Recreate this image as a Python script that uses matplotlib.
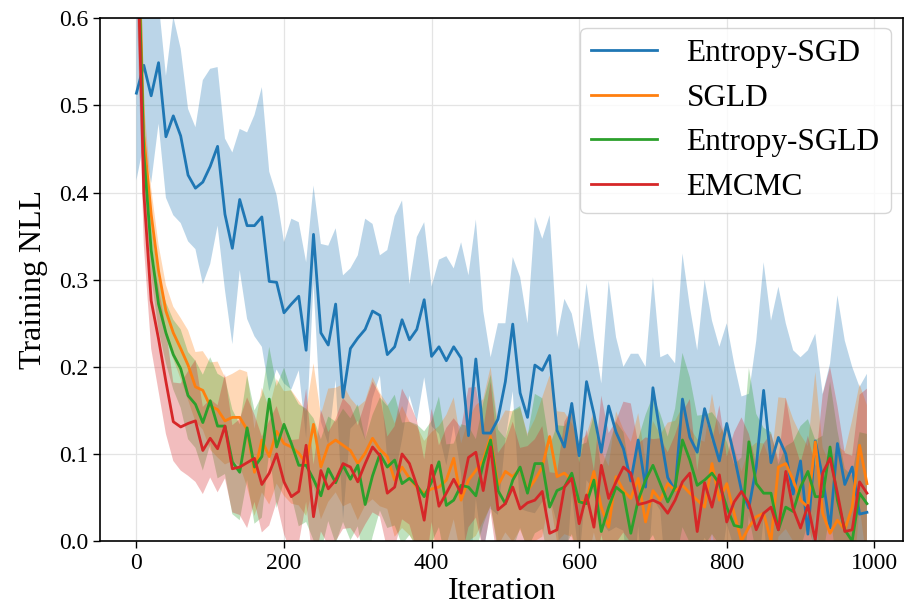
import numpy as np
import matplotlib
matplotlib.use("Agg")
import matplotlib.pyplot as plt

plt.rcParams['font.family'] = ['Liberation Serif', 'DejaVu Serif']
plt.rcParams['mathtext.fontset'] = 'stix'

iterations = list(range(0, 1000, 10))

labels = ["Entropy-SGD", "SGLD", "Entropy-SGLD", "EMCMC"]
colors = ["#1f77b4", "#ff7f0e", "#2ca02c", "#d62728"]

entropy_sgd_mean = [
    0.514, 0.546, 0.511, 0.549, 0.464, 0.488, 0.465, 0.420, 0.405, 0.412,
    0.430, 0.453, 0.375, 0.336, 0.392, 0.362, 0.362, 0.372, 0.298, 0.297,
    0.262, 0.272, 0.281, 0.219, 0.352, 0.239, 0.225, 0.272, 0.165, 0.221,
    0.233, 0.243, 0.264, 0.259, 0.214, 0.223, 0.254, 0.231, 0.243, 0.277,
    0.212, 0.223, 0.207, 0.223, 0.210, 0.121, 0.209, 0.124, 0.124, 0.140,
    0.183, 0.249, 0.170, 0.142, 0.202, 0.196, 0.213, 0.127, 0.108, 0.158,
    0.098, 0.183, 0.146, 0.102, 0.155, 0.125, 0.106, 0.069, 0.116, 0.062,
    0.176, 0.123, 0.073, 0.058, 0.163, 0.119, 0.102, 0.152, 0.121, 0.092,
    0.135, 0.098, 0.058, 0.038, 0.085, 0.173, 0.090, 0.119, 0.100, 0.054,
    0.092, 0.008, 0.115, 0.073, 0.015, 0.112, 0.065, 0.085, 0.031, 0.033,
]
entropy_sgd_std = [
    0.100, 0.090, 0.100, 0.070, 0.070, 0.114, 0.100, 0.076, 0.070, 0.117,
    0.112, 0.091, 0.087, 0.110, 0.081, 0.107, 0.127, 0.149, 0.126, 0.100,
    0.081, 0.098, 0.085, 0.101, 0.056, 0.102, 0.114, 0.087, 0.140, 0.092,
    0.095, 0.127, 0.100, 0.069, 0.120, 0.150, 0.137, 0.064, 0.106, 0.089,
    0.080, 0.100, 0.120, 0.090, 0.133, 0.184, 0.160, 0.140, 0.087, 0.110,
    0.067, 0.077, 0.133, 0.108, 0.170, 0.151, 0.161, 0.107, 0.170, 0.103,
    0.121, 0.113, 0.088, 0.079, 0.144, 0.109, 0.094, 0.146, 0.099, 0.138,
    0.127, 0.088, 0.142, 0.146, 0.167, 0.150, 0.117, 0.148, 0.132, 0.131,
    0.115, 0.106, 0.108, 0.131, 0.145, 0.147, 0.163, 0.173, 0.150, 0.165,
    0.119, 0.211, 0.123, 0.096, 0.189, 0.170, 0.165, 0.115, 0.146, 0.159,
]

sgld_mean = [
    0.780, 0.465, 0.375, 0.310, 0.264, 0.239, 0.221, 0.202, 0.177, 0.173,
    0.155, 0.151, 0.138, 0.142, 0.142, 0.128, 0.079, 0.116, 0.097, 0.126,
    0.112, 0.108, 0.101, 0.089, 0.134, 0.085, 0.110, 0.116, 0.110, 0.104,
    0.089, 0.101, 0.118, 0.105, 0.097, 0.070, 0.085, 0.072, 0.062, 0.055,
    0.060, 0.062, 0.070, 0.095, 0.047, 0.070, 0.081, 0.093, 0.120, 0.064,
    0.080, 0.074, 0.083, 0.058, 0.070, 0.085, 0.120, 0.074, 0.078, 0.070,
    0.044, 0.047, 0.080, 0.039, 0.016, 0.074, 0.058, 0.049, 0.072, 0.022,
    0.058, 0.047, 0.066, 0.058, 0.064, 0.055, 0.047, 0.039, 0.089, 0.047,
    0.066, 0.032, 0.000, 0.016, 0.028, 0.032, 0.000, 0.085, 0.089, 0.070,
    0.047, 0.039, 0.114, 0.032, 0.009, 0.024, 0.013, 0.039, 0.110, 0.066,
]
sgld_std = [
    0.100, 0.040, 0.030, 0.030, 0.030, 0.030, 0.035, 0.040, 0.040, 0.045,
    0.050, 0.055, 0.050, 0.050, 0.055, 0.066, 0.050, 0.060, 0.055, 0.060,
    0.060, 0.065, 0.060, 0.060, 0.070, 0.060, 0.065, 0.060, 0.070, 0.060,
    0.065, 0.060, 0.070, 0.065, 0.060, 0.065, 0.070, 0.065, 0.070, 0.060,
    0.065, 0.070, 0.075, 0.070, 0.065, 0.070, 0.075, 0.070, 0.080, 0.070,
    0.070, 0.075, 0.070, 0.065, 0.070, 0.080, 0.070, 0.075, 0.070, 0.065,
    0.070, 0.075, 0.070, 0.065, 0.070, 0.075, 0.070, 0.065, 0.075, 0.070,
    0.080, 0.075, 0.070, 0.080, 0.090, 0.075, 0.070, 0.075, 0.080, 0.075,
    0.070, 0.075, 0.080, 0.090, 0.085, 0.080, 0.090, 0.080, 0.075, 0.070,
    0.075, 0.070, 0.080, 0.075, 0.080, 0.085, 0.090, 0.100, 0.070, 0.090,
]

entropy_sgld_mean = [
    0.750, 0.445, 0.334, 0.272, 0.239, 0.214, 0.198, 0.167, 0.157, 0.136,
    0.161, 0.132, 0.132, 0.091, 0.079, 0.130, 0.085, 0.097, 0.163, 0.108,
    0.134, 0.112, 0.087, 0.087, 0.071, 0.052, 0.083, 0.067, 0.087, 0.071,
    0.087, 0.042, 0.075, 0.100, 0.085, 0.093, 0.066, 0.072, 0.064, 0.051,
    0.068, 0.091, 0.041, 0.047, 0.064, 0.062, 0.052, 0.089, 0.116, 0.058,
    0.043, 0.070, 0.085, 0.055, 0.089, 0.089, 0.039, 0.058, 0.062, 0.078,
    0.045, 0.043, 0.070, 0.011, 0.039, 0.062, 0.055, 0.009, 0.047, 0.070,
    0.087, 0.066, 0.045, 0.062, 0.116, 0.093, 0.064, 0.070, 0.078, 0.066,
    0.039, 0.018, 0.016, 0.114, 0.066, 0.055, 0.055, 0.013, 0.039, 0.034,
    0.062, 0.080, 0.051, 0.051, 0.108, 0.047, 0.013, 0.000, 0.055, 0.043,
]
entropy_sgld_std = [
    0.100, 0.040, 0.030, 0.030, 0.035, 0.040, 0.045, 0.050, 0.050, 0.055,
    0.050, 0.060, 0.055, 0.060, 0.055, 0.060, 0.065, 0.070, 0.060, 0.070,
    0.065, 0.060, 0.070, 0.065, 0.070, 0.065, 0.060, 0.070, 0.065, 0.070,
    0.070, 0.075, 0.070, 0.065, 0.070, 0.075, 0.070, 0.065, 0.070, 0.075,
    0.070, 0.075, 0.070, 0.065, 0.070, 0.070, 0.065, 0.070, 0.075, 0.070,
    0.075, 0.080, 0.070, 0.065, 0.080, 0.075, 0.070, 0.075, 0.070, 0.070,
    0.065, 0.070, 0.075, 0.070, 0.070, 0.075, 0.070, 0.065, 0.070, 0.075,
    0.080, 0.080, 0.075, 0.090, 0.100, 0.095, 0.080, 0.075, 0.070, 0.070,
    0.075, 0.070, 0.080, 0.085, 0.080, 0.075, 0.070, 0.075, 0.070, 0.080,
    0.070, 0.060, 0.065, 0.070, 0.075, 0.080, 0.070, 0.075, 0.070, 0.080,
]

emcmc_mean = [
    0.730, 0.400, 0.276, 0.232, 0.183, 0.137, 0.131, 0.135, 0.138, 0.104,
    0.118, 0.106, 0.132, 0.083, 0.085, 0.090, 0.095, 0.065, 0.078, 0.100,
    0.068, 0.051, 0.057, 0.110, 0.028, 0.081, 0.060, 0.070, 0.089, 0.085,
    0.068, 0.089, 0.108, 0.098, 0.055, 0.062, 0.100, 0.089, 0.064, 0.024,
    0.087, 0.040, 0.055, 0.071, 0.055, 0.096, 0.102, 0.058, 0.108, 0.036,
    0.043, 0.062, 0.037, 0.044, 0.047, 0.057, 0.009, 0.013, 0.062, 0.072,
    0.020, 0.053, 0.016, 0.087, 0.049, 0.068, 0.085, 0.078, 0.042, 0.044,
    0.047, 0.043, 0.032, 0.047, 0.068, 0.078, 0.011, 0.067, 0.039, 0.076,
    0.022, 0.045, 0.057, 0.043, 0.013, 0.032, 0.039, 0.013, 0.080, 0.037,
    0.015, 0.041, 0.001, 0.078, 0.095, 0.055, 0.011, 0.013, 0.068, 0.055,
]
emcmc_std = [
    0.100, 0.060, 0.055, 0.060, 0.060, 0.045, 0.050, 0.060, 0.070, 0.050,
    0.045, 0.050, 0.060, 0.050, 0.055, 0.075, 0.050, 0.055, 0.060, 0.055,
    0.060, 0.065, 0.060, 0.065, 0.060, 0.070, 0.065, 0.070, 0.075, 0.070,
    0.065, 0.070, 0.075, 0.070, 0.065, 0.070, 0.075, 0.070, 0.075, 0.070,
    0.065, 0.070, 0.075, 0.070, 0.075, 0.080, 0.075, 0.070, 0.075, 0.065,
    0.070, 0.075, 0.070, 0.065, 0.070, 0.075, 0.070, 0.065, 0.075, 0.080,
    0.070, 0.075, 0.065, 0.080, 0.075, 0.070, 0.075, 0.080, 0.070, 0.075,
    0.070, 0.075, 0.070, 0.075, 0.080, 0.085, 0.070, 0.080, 0.075, 0.080,
    0.075, 0.080, 0.085, 0.080, 0.075, 0.080, 0.085, 0.080, 0.085, 0.080,
    0.075, 0.080, 0.085, 0.090, 0.105, 0.100, 0.090, 0.085, 0.100, 0.120,
]

means = [entropy_sgd_mean, sgld_mean, entropy_sgld_mean, emcmc_mean]
stds = [entropy_sgd_std, sgld_std, entropy_sgld_std, emcmc_std]

fig = plt.figure(figsize=(9.08, 6.08), dpi=100)
ax = fig.add_axes([0.110, 0.110, 0.885, 0.860])

x = np.array(iterations)
for lab, col, m, s in zip(labels, colors, means, stds):
    m = np.array(m)
    s = np.array(s)
    ax.plot(x, m, color=col, lw=2.0, label=lab)
    ax.fill_between(x, m - s, m + s, color=col, alpha=0.3, lw=0)

ax.set_ylim(0.0, 0.6)
ax.set_xticks([0, 200, 400, 600, 800, 1000])
ax.set_yticks([0.0, 0.1, 0.2, 0.3, 0.4, 0.5, 0.6])
ax.set_yticklabels(["0.0", "0.1", "0.2", "0.3", "0.4", "0.5", "0.6"])
ax.tick_params(labelsize=17, length=5, width=1.0)
ax.grid(True, color="#e4e4e4", lw=0.9)
ax.set_axisbelow(True)
for sp in ax.spines.values():
    sp.set_linewidth(1.2)

ax.set_xlabel("Iteration", fontsize=23, labelpad=2)
ax.set_ylabel("Training NLL", fontsize=23, labelpad=8)

leg = ax.legend(loc="upper right", bbox_to_anchor=(0.984, 0.981),
                borderaxespad=0.0, fontsize=22.5, frameon=True, fancybox=True,
                borderpad=0.35, labelspacing=0.5, handlelength=2.1,
                handletextpad=0.95)
leg.get_frame().set_edgecolor("#cccccc")
leg.get_frame().set_linewidth(1.0)

fig.savefig("out.png", dpi=100)
